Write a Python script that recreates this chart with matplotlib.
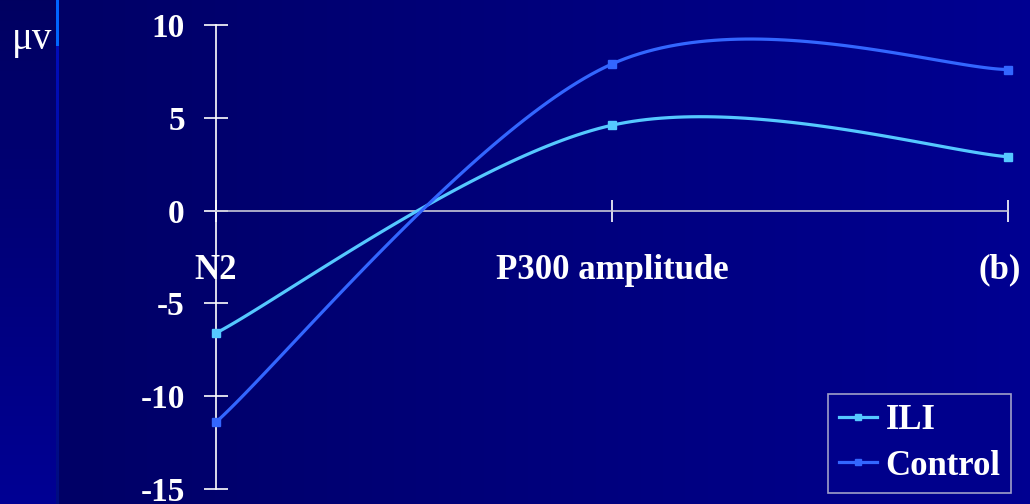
import numpy as np
import matplotlib.pyplot as plt
import matplotlib.transforms as mtransforms
from matplotlib.lines import Line2D

# data
categories = ["N2", "P300 amplitude", "(b)"]
ili = [-6.6, 4.6, 2.9]
control = [-11.4, 7.9, 7.6]
yticks = [-15, -10, -5, 0, 5, 10]


def smooth(xs, ys, n=60):
    # excel-like smoothed line: cubic bezier through the points
    p = np.column_stack([xs, ys]).astype(float)
    ext = np.vstack([p[0], p, p[-1]])
    out = []
    for i in range(len(p) - 1):
        p0, p1 = p[i], p[i + 1]
        c1 = p0 + (ext[i + 2] - ext[i]) / 6
        c2 = p1 - (ext[i + 3] - ext[i + 1]) / 6
        t = np.linspace(0, 1, n)[:, None]
        seg = ((1 - t) ** 3 * p0 + 3 * (1 - t) ** 2 * t * c1
               + 3 * (1 - t) * t ** 2 * c2 + t ** 3 * p1)
        out.append(seg if i == 0 else seg[1:])
    out = np.vstack(out)
    return out[:, 0], out[:, 1]


W, H = 1030, 504
fig = plt.figure(figsize=(W / 100, H / 100), dpi=100)

# background: dark blue slide with a lighter left strip
bg = np.zeros((H, W, 3))
xx = np.linspace(0, 1, W)
yy = np.linspace(0, 1, H)
bg[:, :, 2] = (0.39 + 0.18 * xx)[None, :]
strip = 56
bg[:, :strip, 2] = (0.38 + 0.2 * yy)[:, None]
bg[:, strip:strip + 3, 1] = np.where(yy < 0.09, 0.4, 0.05)[:, None]
bg[:, strip:strip + 3, 2] = np.where(yy < 0.09, 1.0, 0.75 - 0.25 * yy)[:, None]
bax = fig.add_axes([0, 0, 1, 1], zorder=-1)
bax.imshow(bg, aspect="auto", interpolation="nearest")
bax.axis("off")

ax = fig.add_axes([216 / W, 15 / H, (1008 - 216) / W, (489 - 25) / H])
ax.set_facecolor("none")

x = np.arange(len(categories))
for vals, col, lab in [(ili, "#55c8ff", "ILI"), (control, "#3366ff", "Control")]:
    sx, sy = smooth(x, vals)
    ax.plot(sx, sy, color=col, lw=2.3, clip_on=False, zorder=3)
    ax.plot(x, vals, ls="none", marker="s", ms=5.5, color=col,
            clip_on=False, zorder=4)

ax.set_xlim(0, 2)
ax.set_ylim(-15, 10)

for s in ["top", "right"]:
    ax.spines[s].set_visible(False)
ax.spines["left"].set_color("white")
ax.spines["left"].set_linewidth(1.2)
ax.spines["bottom"].set_position(("data", 0))
ax.spines["bottom"].set_color("#c8c8d8")
ax.spines["bottom"].set_linewidth(1.2)

ax.set_yticks(yticks)
ax.set_yticklabels([str(v) for v in yticks], family="Liberation Serif",
                   weight="bold", size=24, color="white")
ax.tick_params(axis="y", direction="inout", length=17, width=1.2,
               color="white", pad=14)
ax.set_xticks(x)
ax.set_xticklabels(categories, family="Liberation Serif", weight="bold",
                   size=25, color="white")
ax.tick_params(axis="x", direction="inout", length=16, width=1.2,
               color="white", pad=23)
last = ax.get_xticklabels()[-1]
last.set_transform(last.get_transform() +
                   mtransforms.ScaledTranslation(-8 / 100, 0, fig.dpi_scale_trans))

fig.text(12 / W, 1 - 49 / H, "μv", family="Liberation Serif", size=28,
         color="white")

handles = [Line2D([], [], color="#55c8ff", lw=2.3, marker="s", ms=5),
           Line2D([], [], color="#3366ff", lw=2.3, marker="s", ms=5)]
leg = ax.legend(handles, ["ILI", "Control"], loc="lower right",
                bbox_to_anchor=(1011 / W, 11 / H), bbox_transform=fig.transFigure,
                prop=dict(family="Liberation Serif", weight="bold", size=25),
                frameon=True, fancybox=False, handlelength=1.1,
                handletextpad=0.25, borderpad=0.3, labelspacing=0.35,
                borderaxespad=0)
leg.get_frame().set_facecolor("#00008c")
leg.get_frame().set_edgecolor("#c8c8d8")
leg.get_frame().set_linewidth(1.2)
for t in leg.get_texts():
    t.set_color("white")

fig.savefig("out.png", dpi=100)
